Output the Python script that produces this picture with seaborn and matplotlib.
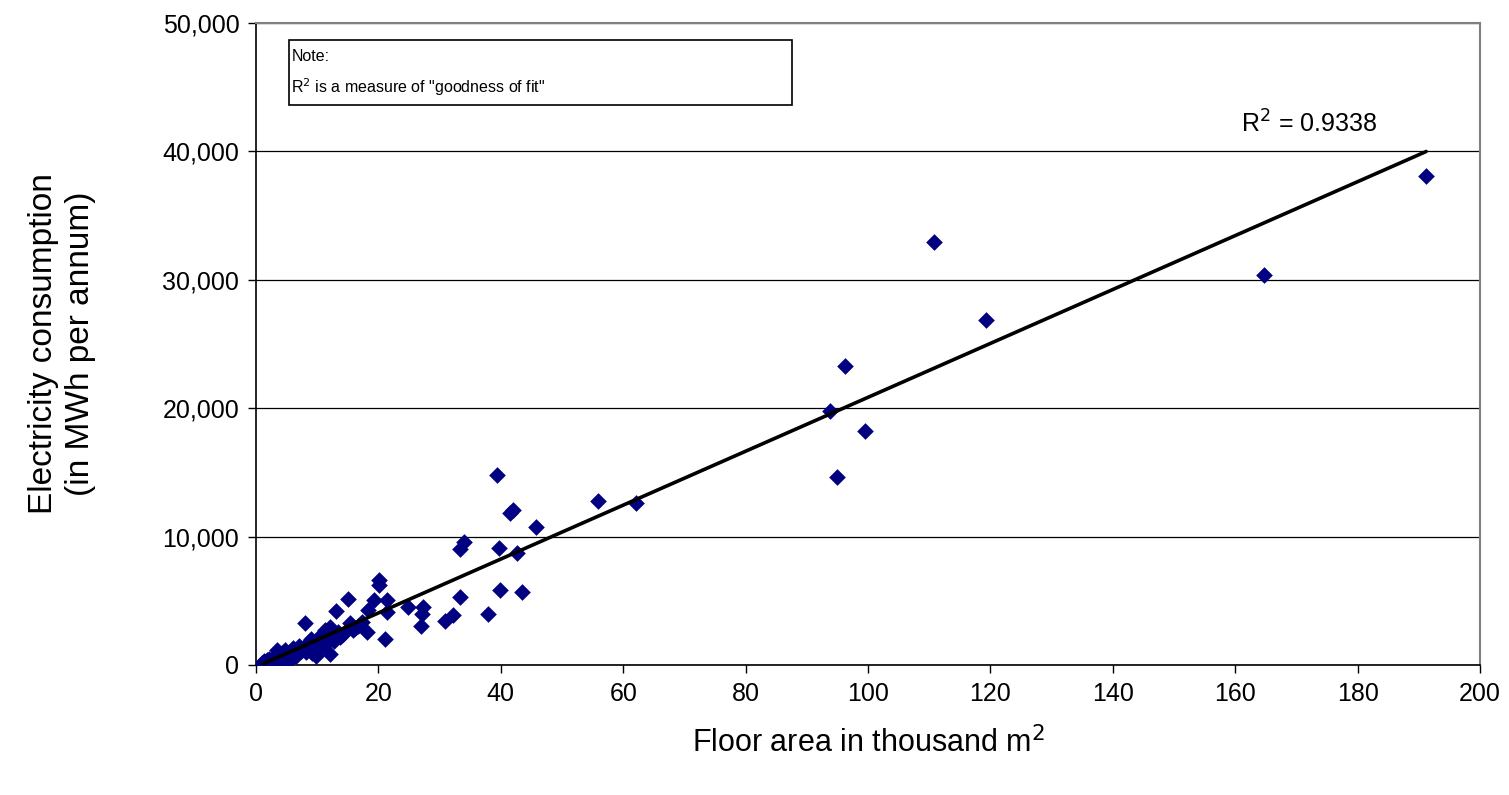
import numpy as np
import pandas as pd
import matplotlib
matplotlib.use("Agg")
import matplotlib.pyplot as plt
import seaborn as sns
from matplotlib.patches import Rectangle

# floor area (thousand m2) and electricity consumption (MWh per annum)
floor_area = [1.0, 1.3, 1.5, 1.8, 2.0, 2.2, 2.5, 2.8, 3.0, 3.2, 3.5, 3.8, 4.0, 4.2, 4.5,
              4.8, 5.0, 5.2, 5.5, 5.8, 6.0, 6.3, 6.6, 7.0, 7.3, 7.6, 8.0, 8.2, 8.5, 8.8,
              9.0, 9.2, 9.5, 9.8, 10.0, 10.3, 10.6, 10.9, 11.2, 11.5, 11.8, 12.1, 12.1, 12.4,
              12.8, 13.1, 13.4, 13.7, 14.0, 14.4, 15.0, 15.4, 15.8, 16.2, 16.6, 17.3, 18.1,
              18.3, 19.3, 20.1, 20.1, 21.1, 21.4, 21.4, 24.8, 27.3, 27.1, 27.0,
              30.9, 32.2, 33.3, 33.3, 34.0, 37.9, 39.4, 39.7, 39.9, 41.5, 42.0, 42.6, 43.5,
              45.8, 55.9, 62.1, 93.8, 94.9, 96.2, 99.5, 110.8, 119.3, 164.7, 191.2]
consumption = [150, 300, 100, 400, 250, 450, 350, 200, 600, 500, 1150, 800, 400, 950, 650,
               1200, 300, 850, 1000, 500, 1300, 900, 700, 1500, 1100, 1350, 3250, 1000, 1700, 1250,
               2000, 900, 1500, 700, 1800, 2200, 1400, 1950, 2700, 1600, 2100, 860, 2960, 2400,
               1900, 4210, 2600, 2180, 2300, 2500, 5140, 3270, 2730, 2900, 3000, 3350, 2570,
               4300, 5060, 6230, 6620, 2030, 5060, 4130, 4520, 4550, 4000, 3040,
               3430, 3900, 5300, 9000, 9580, 3970, 14800, 9110, 5840, 11840, 12070, 8720, 5690,
               10750, 12780, 12620, 19790, 14640, 23290, 18230, 32950, 26880, 30380, 38090]

df = pd.DataFrame({"area": floor_area, "mwh": consumption})

sns.set_style("white")
plt.rcParams['font.family'] = ['Liberation Sans', 'DejaVu Sans']
plt.rcParams['text.color'] = 'black'
plt.rcParams['axes.labelcolor'] = 'black'
plt.rcParams['xtick.color'] = 'black'
plt.rcParams['ytick.color'] = 'black'

fig = plt.figure(figsize=(15.09, 7.95), dpi=100)
ax = fig.add_axes([256/1509, 1-665/795, 1224/1509, 642/795])

ax.set_axisbelow(True)
ax.yaxis.grid(True, color='black', linewidth=0.9)
ax.xaxis.grid(False)

sns.scatterplot(data=df, x="area", y="mwh", marker="D", s=72, color="#000080",
                edgecolor="#000080", linewidth=0, ax=ax, zorder=3)
sns.regplot(data=df, x="area", y="mwh", scatter=False, ci=None, truncate=True,
            line_kws={"color": "black", "linewidth": 2.6, "zorder": 4}, ax=ax)

ax.set_xlim(0, 200)
ax.set_ylim(0, 50000)
ax.set_xticks(np.arange(0, 201, 20))
ax.set_yticks(np.arange(0, 50001, 10000))
ax.yaxis.set_major_formatter(matplotlib.ticker.FuncFormatter(lambda v, p: f"{int(v):,}"))
ax.tick_params(axis='both', labelsize=18, length=6, width=1, direction='out',
               bottom=True, left=True, color='black', pad=6)

for side in ['top', 'right']:
    ax.spines[side].set_color('#808080')
    ax.spines[side].set_linewidth(1.5)
for side in ['left', 'bottom']:
    ax.spines[side].set_color('black')
    ax.spines[side].set_linewidth(1.2)

ax.set_xlabel("Floor area in thousand m$^2$", fontsize=22, labelpad=15)
ax.set_ylabel("Electricity consumption\n(in MWh per annum)", fontsize=24, labelpad=48,
              linespacing=1.25)

# note box
ax.add_patch(Rectangle((0.027, 0.872), 0.411, 0.101, transform=ax.transAxes,
                       fill=False, edgecolor='black', linewidth=1.2, zorder=5))
ax.text(0.029, 0.948, "Note:", transform=ax.transAxes, fontsize=11.5, va='center', ha='left')
ax.text(0.029, 0.9, 'R$^2$ is a measure of "goodness of fit"', transform=ax.transAxes,
        fontsize=11.5, va='center', ha='left')

ax.text(172, 42100, "R$^2$ = 0.9338", fontsize=18, ha='center', va='center')

fig.savefig("out.png", dpi=100)
